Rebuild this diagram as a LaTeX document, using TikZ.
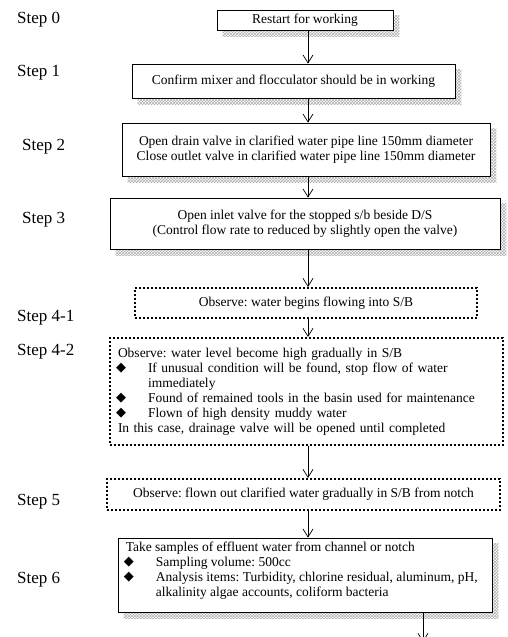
\documentclass[tikz,border=0pt]{standalone}
\usepackage{fontspec}
\setmainfont{Liberation Serif}
\newfontfamily\symfont{DejaVu Sans}
\usetikzlibrary{arrows.meta,patterns,backgrounds}
\frenchspacing

% bullet with hanging indent
\newcommand{\bul}{\makebox[30pt][l]{\hspace{-2pt}\raisebox{0.5pt}{\symfont\fontsize{13}{13}\selectfont ◆}}}
\newcommand{\hang}{\hspace*{30pt}}

\tikzset{
  boxtext/.style={font=\fontsize{13.5}{15}\selectfont},
  stepbox/.style={draw, line width=0.8pt, fill=white, boxtext, align=center, inner sep=0pt},
  dotbox/.style={draw, line width=2pt, dash pattern=on 2pt off 2pt, fill=white, boxtext, align=center, inner sep=0pt},
  steplabel/.style={anchor=west, font=\fontsize{17}{17}\selectfont, inner sep=0pt},
  flow/.style={line width=0.7pt, -{Straight Barb[length=8pt,width=10pt,line width=0.7pt]}},
  hatch/.style={pattern=crosshatch, pattern color=gray!65},
}

\begin{document}
\begin{tikzpicture}[x=1pt, y=-1pt]
\useasboundingbox (0,0) rectangle (507,637);

% step labels
\node[steplabel] (s0) at (17,20) {Step 0};
\node[steplabel] (s1) at (17,73) {Step 1};
\node[steplabel] (s2) at (22,147) {Step 2};
\node[steplabel] (s3) at (22,220) {Step 3};
\node[steplabel] (s41) at (17,318) {Step 4-1};
\node[steplabel] (s42) at (17,352) {Step 4-2};
\node[steplabel] (s5) at (17,502) {Step 5};
\node[steplabel] (s6) at (17,580) {Step 6};

% process boxes
\node[stepbox, minimum width=176pt, minimum height=20pt] (b0) at (305,20) {Restart for working};
\node[stepbox, minimum width=323pt, minimum height=34pt] (b1) at (293.5,81) {Confirm mixer and flocculator should be in working};
\node[stepbox, minimum width=368pt, minimum height=53pt] (b2) at (306,149.5)
  {Open drain valve in clarified water pipe line 150mm diameter\\Close outlet valve in clarified water pipe line 150mm diameter};
\node[stepbox, minimum width=390pt, minimum height=51pt] (b3) at (305,223.5)
  {Open inlet valve for the stopped s/b beside D/S\\(Control flow rate to reduced by slightly open the valve)};
\node[dotbox, minimum width=342pt, minimum height=30pt] (b41) at (306,303) {Observe: water begins flowing into S/B};
\node[dotbox, align=left, text width=377pt, inner xsep=8pt, minimum height=107pt] (b42) at (306.5,391.5)
  {Observe: water level become high gradually in S/B\\
   \bul If unusual condition will be found, stop flow of water\\
   \hang immediately\\
   \bul Found of remained tools in the basin used for maintenance\\
   \bul Flown of high density muddy water\\
   In this case, drainage valve will be opened until completed};
\node[dotbox, minimum width=393pt, minimum height=31pt] (b5) at (303.5,494.5) {Observe: flown out clarified water gradually in S/B from notch};
\node[stepbox, minimum width=374pt, minimum height=74pt] (b6) at (305,575) {};
\node[boxtext, anchor=north west, align=left, inner sep=0pt] (t6) at ([shift={(8pt,-4pt)}]b6.north west)
  {Take samples of effluent water from channel or notch\\
   \bul Sampling volume: 500cc\\
   \bul Analysis items: Turbidity, chlorine residual, aluminum, pH,\\
   \hang alkalinity algae accounts, coliform bacteria};

% hatched shadows behind the solid boxes
\begin{scope}[on background layer]
  \foreach \b in {b0,b1,b2,b3,b6}{
    \fill[hatch] ([shift={(6pt,-6pt)}]\b.south west) rectangle ([shift={(6pt,-6pt)}]\b.north east);
  }
\end{scope}

% connectors
\coordinate (ax) at (308,0);
\coordinate (bx) at (423,0);
\coordinate (out) at (423,642);
\draw[flow] (b0.south -| ax) -- (b1.north -| ax);
\draw[flow] (b1.south -| ax) -- (b2.north -| ax);
\draw[flow] (b2.south -| ax) -- (b3.north -| ax);
\draw[flow] (b3.south -| ax) -- (b41.north -| ax);
\draw[flow] (b41.south -| ax) -- (b42.north -| ax);
\draw[flow] (b42.south -| ax) -- (b5.north -| ax);
\draw[flow] (b5.south -| ax) -- (b6.north -| ax);
\draw[flow] (b6.south -| bx) -- (out);
\end{tikzpicture}
\end{document}
